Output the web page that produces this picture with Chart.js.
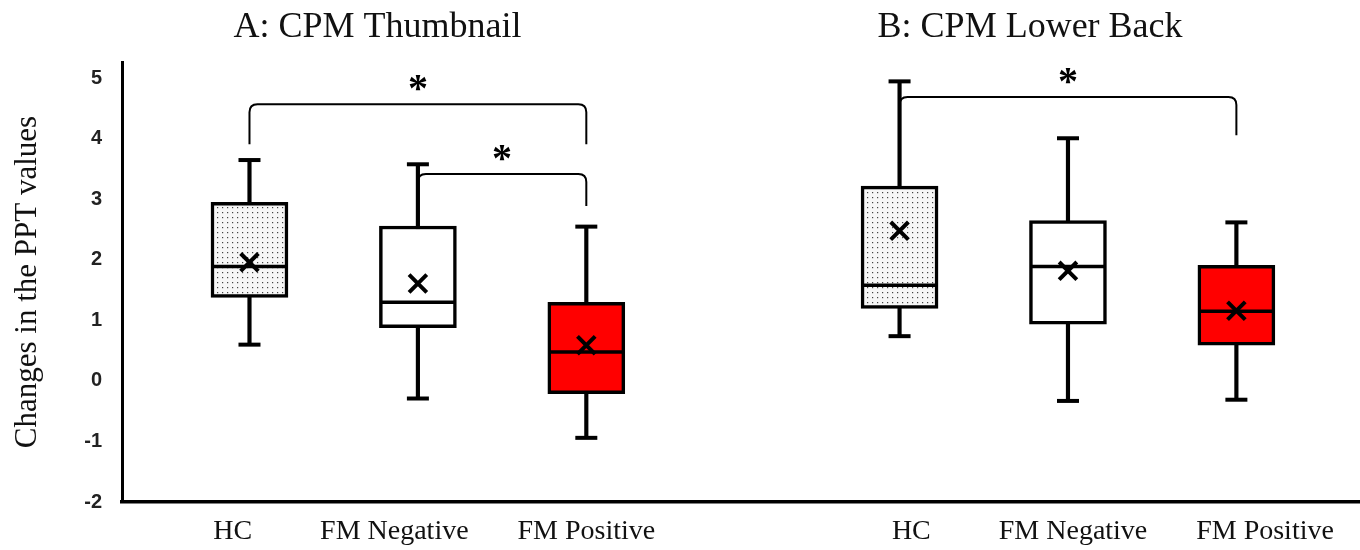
<!DOCTYPE html>
<html>
<head>
<meta charset="utf-8">
<script src="https://cdn.jsdelivr.net/npm/chart.js@4.4.0/dist/chart.umd.min.js"></script>
<style>
  body { margin: 0; background: #fff; }
  #wrap { width: 1360px; height: 550px; }
</style>
</head>
<body>
<div id="wrap"><canvas id="cpmChart"></canvas></div>
<script>
const panelTitles = ["A: CPM Thumbnail", "B: CPM Lower Back"];
const groups = ["HC", "FM Negative", "FM Positive"];

// six boxes: panel A (thumbnail) HC / FM- / FM+, then panel B (lower back)
const whiskerLow  = [0.60, -0.29, -0.94, 0.74, -0.33, -0.31];
const q1          = [1.38,  0.88, -0.21, 1.20,  0.94,  0.59];
const median      = [1.89,  1.30,  0.48, 1.58,  1.89,  1.15];
const q3          = [2.95,  2.56,  1.30, 3.22,  2.65,  1.91];
const whiskerHigh = [3.65,  3.58,  2.55, 4.95,  4.01,  2.62];
const mean        = [1.96,  1.61,  0.59, 2.48,  1.82,  1.16];

const yTicks = [-2, -1, 0, 1, 2, 3, 4, 5];

// significance brackets (box index from/to, bar height, leg end)
const brackets = [
  { from: 0, to: 2, top: 4.57, leg: 3.91 },
  { from: 1, to: 2, top: 3.42, leg: 2.89 },
  { from: 3, to: 5, top: 4.69, leg: 4.06 },
];

// layout only
const PANEL_B_SHIFT = 3.86;
const slots = [0, 1, 2].concat([0, 1, 2].map((i) => i + PANEL_B_SHIFT));
const labelNudge = [-0.1, -0.14, 0, 0.07, 0.03, 0.17];
const titleAnchor = [0.76, 4.635];

function dotPattern() {
  const c = document.createElement("canvas");
  c.width = 5;
  c.height = 5;
  const g = c.getContext("2d");
  g.fillStyle = "#f6f6f6";
  g.fillRect(0, 0, 5, 5);
  g.fillStyle = "#444";
  g.fillRect(2, 2, 1.2, 1.2);
  return g.createPattern(c, "repeat");
}
const dots = dotPattern();
const fills = [dots, "#ffffff", "#ff0000", dots, "#ffffff", "#ff0000"];

const pts = (vals) => slots.map((x, i) => ({ x: x, y: vals[i] }));
const ranges = (lo, hi) => slots.map((x, i) => ({ x: x, y: [lo[i], hi[i]] }));

const annotate = {
  id: "annotate",
  afterDatasetsDraw(chart) {
    const { ctx, scales: { x, y } } = chart;
    ctx.save();
    ctx.strokeStyle = "#000";
    ctx.fillStyle = "#000";
    ctx.lineWidth = 2;
    ctx.font = 'bold 40px "Liberation Serif"';
    ctx.textAlign = "center";
    ctx.textBaseline = "alphabetic";
    brackets.forEach((b) => {
      const x0 = x.getPixelForValue(slots[b.from]);
      const x1 = x.getPixelForValue(slots[b.to]);
      const yt = y.getPixelForValue(b.top);
      const yl = y.getPixelForValue(b.leg);
      const r = 8;
      ctx.beginPath();
      ctx.moveTo(x0, yl);
      ctx.lineTo(x0, yt + r);
      ctx.quadraticCurveTo(x0, yt, x0 + r, yt);
      ctx.lineTo(x1 - r, yt);
      ctx.quadraticCurveTo(x1, yt, x1, yt + r);
      ctx.lineTo(x1, yl);
      ctx.stroke();
      ctx.fillText("*", (x0 + x1) / 2, yt - 3);
    });
    ctx.restore();
  },
  afterDraw(chart) {
    const { ctx, scales: { x } } = chart;
    ctx.save();
    ctx.fillStyle = "#111";
    ctx.font = '36px "Liberation Serif"';
    ctx.textAlign = "center";
    ctx.textBaseline = "alphabetic";
    panelTitles.forEach((t, i) => {
      ctx.fillText(t, x.getPixelForValue(titleAnchor[i]), 37);
    });
    ctx.restore();
  },
};

new Chart(document.getElementById("cpmChart").getContext("2d"), {
  type: "bar",
  plugins: [annotate],
  data: {
    datasets: [
      {
        type: "scatter",
        data: pts(mean),
        pointStyle: "crossRot",
        radius: 12.5,
        borderWidth: 4,
        borderColor: "#000",
        backgroundColor: "transparent",
      },
      {
        type: "scatter",
        data: pts(median),
        pointStyle: "line",
        radius: 37,
        borderWidth: 3.5,
        borderColor: "#000",
      },
      {
        data: ranges(q1, q3),
        backgroundColor: fills,
        borderColor: "#000",
        borderWidth: 3.5,
        borderSkipped: false,
        barThickness: 77,
        grouped: false,
      },
      {
        type: "scatter",
        data: pts(whiskerLow).concat(pts(whiskerHigh)),
        pointStyle: "line",
        radius: 11,
        borderWidth: 4,
        borderColor: "#000",
      },
      {
        data: ranges(whiskerLow, whiskerHigh),
        backgroundColor: "#000",
        borderWidth: 0,
        barThickness: 3.5,
        grouped: false,
      },
    ],
  },
  options: {
    animation: false,
    responsive: true,
    maintainAspectRatio: false,
    events: [],
    layout: { autoPadding: false, padding: { top: 62, left: 0, right: 0, bottom: 0 } },
    plugins: {
      legend: { display: false },
      tooltip: { enabled: false },
    },
    scales: {
      x: {
        type: "linear",
        offset: false,
        min: -0.757,
        max: 6.594,
        afterBuildTicks: (s) => {
          s.ticks = slots.map((v, i) => ({ value: v + labelNudge[i] }));
        },
        afterFit: (s) => {
          s.height = 48;
          s.paddingLeft = 0;
          s.paddingRight = 0;
        },
        grid: { display: false, drawTicks: false },
        border: { display: true, color: "#000", width: 3.5 },
        ticks: {
          autoSkip: false,
          maxRotation: 0,
          padding: 13,
          color: "#111",
          font: { family: "Liberation Serif", size: 28 },
          callback: (v, i) => groups[i % 3],
        },
      },
      y: {
        min: -2,
        max: 5.27,
        afterBuildTicks: (s) => {
          s.ticks = yTicks.map((v) => ({ value: v }));
        },
        afterFit: (s) => {
          s.width = 122;
          s.paddingTop = 0;
          s.paddingBottom = 0;
        },
        grid: { display: false, drawTicks: false },
        border: { display: true, color: "#000", width: 3 },
        ticks: {
          padding: 20,
          color: "#222",
          font: { family: "Liberation Sans", size: 20, weight: "bold" },
        },
        title: {
          display: true,
          text: "Changes in the PPT values",
          color: "#111",
          font: { family: "Liberation Serif", size: 31 },
          padding: { top: 9, bottom: 0 },
        },
      },
    },
  },
});
</script>
</body>
</html>
